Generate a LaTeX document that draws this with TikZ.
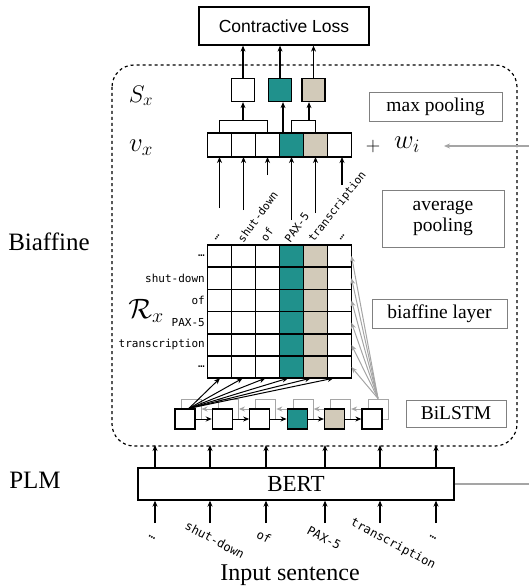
\RequirePackage{fix-cm}
\documentclass[tikz,border=0pt]{standalone}
\usepackage{fontspec}
\setmainfont{Liberation Serif}
\setsansfont{Liberation Sans}
\setmonofont{DejaVu Sans Mono}
\usetikzlibrary{arrows.meta}
\definecolor{tealc}{RGB}{32,145,140}
\definecolor{tanc}{RGB}{210,202,185}
\definecolor{gline}{RGB}{165,165,165}
\DeclareMathSizes{24}{24}{17}{12}
\DeclareMathSizes{27}{27}{19}{14}
\DeclareMathSizes{28}{28}{20}{14}
\begin{document}
\begin{tikzpicture}[x=1pt,y=-1pt,
  cell/.style={draw, line width=1.3pt, fill=white, minimum width=24pt, minimum height=24pt, inner sep=0pt, outer sep=0pt},
  mcell/.style={draw, line width=1.6pt, fill=white, minimum width=24pt, minimum height=22.2pt, inner sep=0pt, outer sep=0pt},
  sbox/.style={draw, line width=1.3pt, fill=white, minimum width=23pt, minimum height=23pt, inner sep=0pt},
  lbox/.style={draw, line width=1.3pt, fill=white, minimum width=20pt, minimum height=20pt, inner sep=0pt},
  gbox/.style={draw=gline, line width=1pt, fill=white, minimum width=20pt, minimum height=20pt, inner sep=0pt},
  tagbox/.style={draw=gray, line width=0.8pt, font=\fontsize{19.5}{21}\selectfont, inner sep=0pt, align=center},
  arr/.style={-{Stealth[length=6pt,width=5pt]}, line width=1.2pt},
  garr/.style={-{Stealth[length=6pt,width=5pt]}, draw=gline, line width=1pt},
  wlab/.style={font=\fontsize{11}{12}\ttfamily, inner sep=0pt},
  big/.style={font=\fontsize{24}{26}\selectfont}]
\useasboundingbox (0,0) rectangle (529,588);

% dashed frame
\draw[dashed, line width=1.2pt, rounded corners=22pt] (112,65) rectangle (517,446);

% side labels
\node[font=\fontsize{25}{27}\selectfont] (biaf) at (49,242) {Biaffine};
\node[font=\fontsize{25}{27}\selectfont] (plm) at (35,480) {PLM};
\node[big] (inp) at (290,575) {Input sentence};

% Contractive loss
\node[draw, line width=1.3pt, minimum width=170pt, minimum height=38pt, font=\fontsize{17.5}{19}\sffamily] (loss) at (284,26) {Contractive Loss};

% S_x
\node[font=\fontsize{24}{26}\selectfont] (slab) at (141,96) {$S_x$};
\node[sbox] (s1) at (243,90) {};
\node[sbox, fill=tealc] (s2) at (280,90) {};
\node[sbox, fill=tanc] (s3) at (313.5,90) {};
\foreach \i in {1,2,3} \draw[arr] (s\i.north) -- (s\i.north |- loss.south);

% v_x
\node[font=\fontsize{27}{29}\selectfont] (vlab) at (141,148) {$v_x$};
\foreach \i/\c in {1/white,2/white,3/white,4/tealc,5/tanc,6/white}
  \node[cell, fill=\c] (v\i) at ({195.5+24*\i},145) {};
\draw[line width=1pt] (v1.north) -- ++(0,-12) coordinate (b1) -| (v3.north);
\draw[arr] (b1 -| s1.south) -- (s1.south);
\draw[arr] ([xshift=-8.5pt]v4.north) -- ([xshift=-8.5pt]v4.north |- s2.south);
\draw[line width=1pt] (v4.north) -- ++(0,-12) coordinate (b2) -| (v5.north);
\draw[arr] ([xshift=-6.5pt]v5.north |- b2) -- ([xshift=-6.5pt]v5.north |- s3.south);

\node[font=\fontsize{20}{22}\selectfont] (plus) at (373,147) {$+$};
\node[font=\fontsize{27}{29}\selectfont] (wi) at (407,145) {$w_i$};
\coordinate (wend) at (529,146);
\draw[garr, line width=1.4pt] (wend) -- (444,146);

% tag boxes
\node[tagbox, minimum width=133pt, minimum height=29pt] (tmax) at (435.5,106.5) {max pooling};
\node[tagbox, minimum width=122pt, minimum height=57pt] (tavg) at (443,218.5) {average\\pooling};
\node[tagbox, minimum width=135pt, minimum height=29pt] (tbia) at (439.5,313.5) {biaffine layer};
\node[tagbox, minimum width=100pt, minimum height=27pt] (tbil) at (456,413.5) {BiLSTM};

% column labels above matrix
\foreach \x/\y/\n in {219.5/208/1, 243.5/210/2, 267.5/175/3, 291.5/220/4, 315.5/213/5, 342/185/6}{
  \coordinate (ab\n) at (\x,\y);
  \draw[arr] (ab\n) -- (ab\n |- v1.south);
}
\node[wlab, rotate=54, anchor=west] (c1) at (215,240) {…};
\node[wlab, rotate=54, anchor=west] (c2) at (240,241) {shut-down};
\node[wlab, rotate=54, anchor=west] (c3) at (263,240) {of};
\node[wlab, rotate=54, anchor=west] (c4) at (287,241) {PAX-5};
\node[wlab, rotate=52, anchor=west] (c5) at (311,241) {transcription};
\node[wlab, rotate=54, anchor=west] (c6) at (340,240) {…};

% matrix
\foreach \r in {1,...,6}{
  \foreach \c/\col in {1/white,2/white,3/white,4/tealc,5/tanc,6/white}{
    \node[mcell, fill=\col] (m-\r-\c) at ({195.5+24*\c},{245+22.2*(\r-0.5)}) {};
  }
}
\node[font=\fontsize{28}{30}\selectfont] (rlab) at (146,311) {$\mathcal{R}_x$};
\foreach \r/\t in {1/…,2/shut-down,3/of,4/PAX-5,5/transcription,6/…}
  \node[wlab, anchor=east] (rl\r) at (205,{245+22.2*(\r-0.5)}) {\t};

% BiLSTM
\foreach \i in {1,...,6}
  \node[gbox] (g\i) at ({191+37.4*(\i-1)},409) {};
\foreach \i [evaluate=\i as \j using int(\i-1)] in {2,...,6}
  \draw[garr] (g\i.west) -- (g\j.east);
\foreach \i/\c in {1/white,2/white,3/white,4/tealc,5/tanc,6/white}
  \node[lbox, fill=\c] (l\i) at ({185+37.4*(\i-1)},419) {};
\foreach \i [evaluate=\i as \j using int(\i-1)] in {2,...,6}
  \draw[arr, line width=1pt] (l\j.east) -- (l\i.west);

% fans
\foreach \c in {1,...,6}
  \draw[arr, line width=1pt] ([xshift=4pt]l1.north) -- ([xshift={0.5-1.3*(\c-1)}]m-6-\c.south);
\foreach \r in {1,...,6}
  \draw[garr] (g6.north) -- (m-\r-6.east);

% BERT
\node[draw, line width=1.3pt, minimum width=316pt, minimum height=32pt, font=\fontsize{23}{25}\selectfont, inner sep=0pt] (bert) at (296,484) {BERT};
\foreach \x/\n in {155/1,210/2,266/3,325/4,380/5,436/6}{
  \coordinate (top\n) at (\x,445);
  \coordinate (bot\n) at (\x,523);
  \draw[arr] (top\n |- bert.north) -- (top\n);
  \draw[arr] (bot\n) -- (bot\n |- bert.south);
}
\coordinate (bend) at (529,484);
\draw[draw=gline, line width=1.4pt] (bert.east) -- (bend);

% input labels
\node[wlab, font=\fontsize{12}{13}\ttfamily, rotate=-28] (i1) at (152,537) {…};
\node[wlab, font=\fontsize{12}{13}\ttfamily, rotate=-28] (i2) at (215,540) {shut-down};
\node[wlab, font=\fontsize{12}{13}\ttfamily, rotate=-28] (i3) at (264,537) {of};
\node[wlab, font=\fontsize{12}{13}\ttfamily, rotate=-28] (i4) at (324,538) {PAX-5};
\node[wlab, font=\fontsize{12}{13}\ttfamily, rotate=-28] (i5) at (393,544) {transcription};
\node[wlab, font=\fontsize{12}{13}\ttfamily, rotate=-28] (i6) at (433,537) {…};
\end{tikzpicture}
\end{document}
